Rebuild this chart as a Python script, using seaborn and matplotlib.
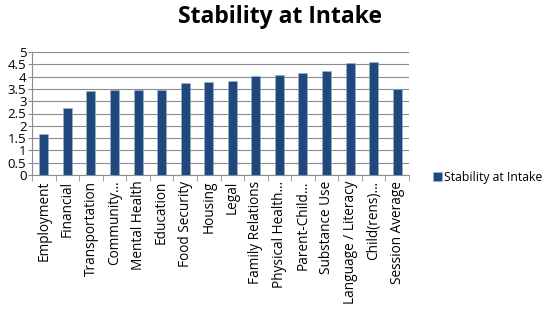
import pandas as pd
import seaborn as sns
import matplotlib.pyplot as plt

categories = ['Employment', 'Financial', 'Transportation', 'Community…', 'Mental Health',
              'Education', 'Food Security', 'Housing', 'Legal', 'Family Relations',
              'Physical Health…', 'Parent-Child…', 'Substance Use', 'Language / Literacy',
              'Child(rens)…', 'Session Average']
values = [1.66, 2.74, 3.42, 3.45, 3.47, 3.47, 3.74, 3.77, 3.81, 4.01,
          4.05, 4.16, 4.22, 4.57, 4.61, 3.51]
series_name = 'Stability at Intake'
y_ticks = [0, 0.5, 1, 1.5, 2, 2.5, 3, 3.5, 4, 4.5, 5]

df = pd.DataFrame({'category': categories, 'value': values})

sns.set_style('white')
plt.rcParams['font.family'] = ['Open Sans', 'DejaVu Sans']
plt.rcParams['text.color'] = 'black'
plt.rcParams['xtick.color'] = 'black'
plt.rcParams['ytick.color'] = 'black'

fig = plt.figure(figsize=(5.58, 3.14), dpi=100)
ax = fig.add_axes([32 / 558, 1 - 175 / 314, 377 / 558, 123 / 314])

sns.barplot(data=df, x='category', y='value', ax=ax, color='#1F497D',
            saturation=1, width=0.38, label=series_name, edgecolor='#9fb3cc', linewidth=0.4)

ax.set_ylim(0, 5)
ax.set_yticks(y_ticks)
ax.set_yticklabels([f'{t:g}' for t in y_ticks], fontsize=9.5)
ax.yaxis.grid(True, color='#8c8c8c', linewidth=0.8)
ax.set_axisbelow(True)
ax.set_xlim(-0.5, len(categories) - 0.5)

# category labels at centres, tick marks at boundaries
ax.set_xticks(range(len(categories)))
ax.set_xticklabels(categories, rotation=90, fontsize=9.8)
ax.tick_params(axis='x', length=0, pad=4)
ax.set_xticks([i - 0.5 for i in range(len(categories) + 1)], minor=True)
ax.tick_params(axis='x', which='minor', length=4, color='#8c8c8c', direction='out', bottom=True)
ax.tick_params(axis='y', length=3, color='#8c8c8c', labelcolor='black', direction='out', left=True, pad=1)

for s in ['top', 'right']:
    ax.spines[s].set_visible(False)
for s in ['left', 'bottom']:
    ax.spines[s].set_color('#8c8c8c')
    ax.spines[s].set_linewidth(0.8)
ax.set_xlabel('')
ax.set_ylabel('')

fig.text(280 / 558, 1 - 17 / 314, 'Stability at Intake', ha='center', va='center',
         fontsize=16.5, fontweight='bold', color='black')

h, l = ax.get_legend_handles_labels()
if ax.legend_:
    ax.legend_.remove()
fig.legend(h, l, loc='center left', bbox_to_anchor=(433 / 558, 1 - 177 / 314), frameon=False,
           fontsize=8.8, handlelength=0.7, handleheight=0.7, handletextpad=0.2, borderpad=0,
           borderaxespad=0)

fig.savefig('out.png', dpi=100)
